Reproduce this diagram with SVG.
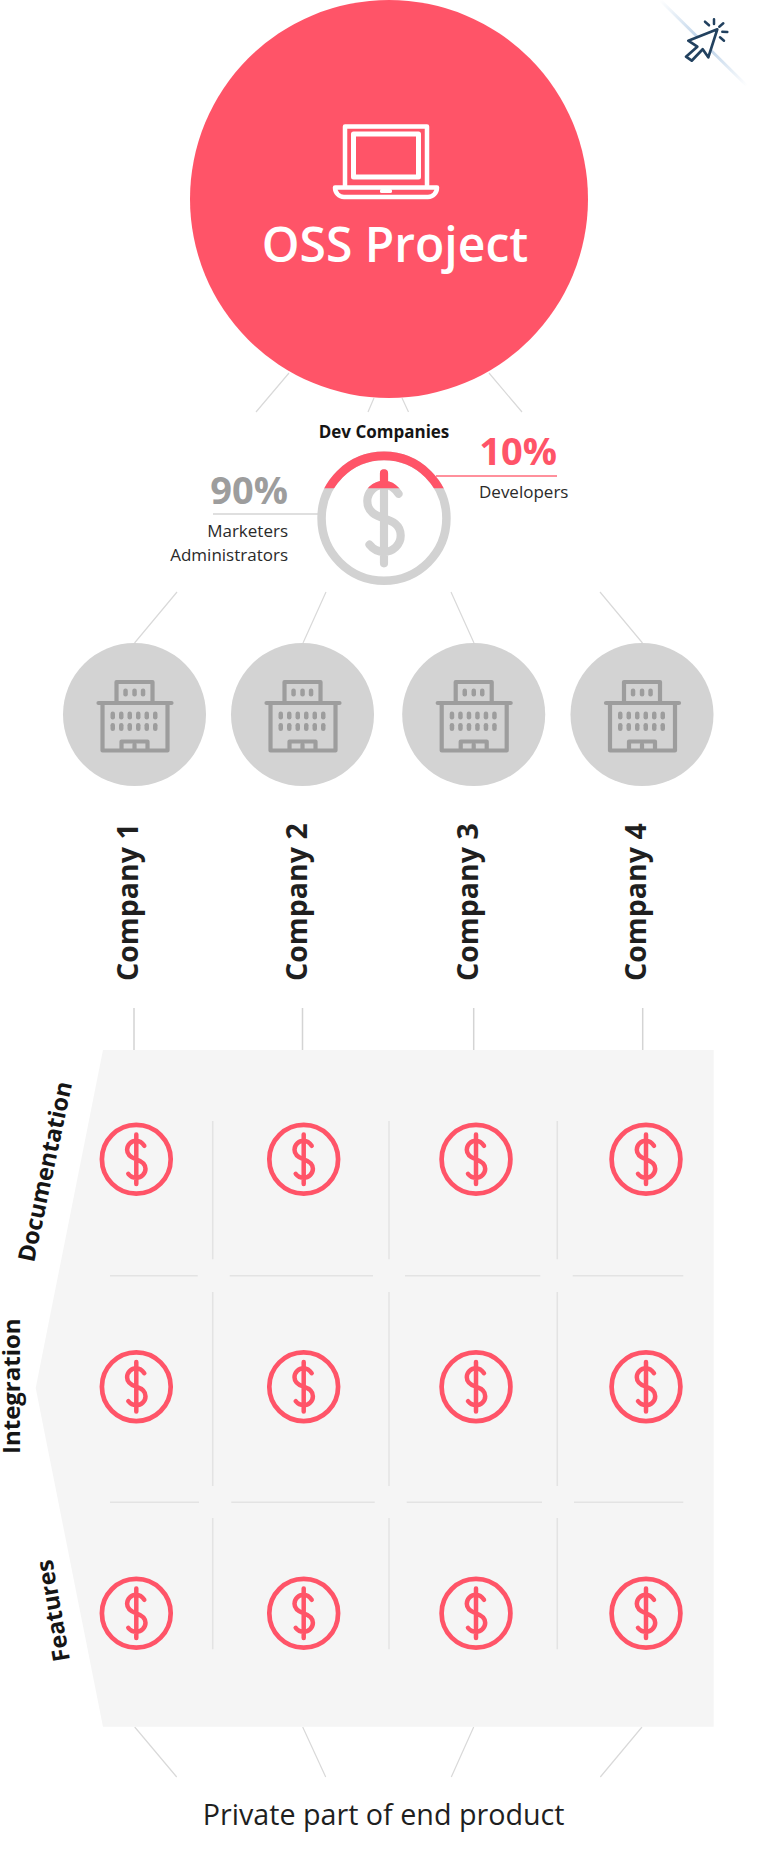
<svg xmlns="http://www.w3.org/2000/svg" width="768" height="1866" viewBox="0 0 768 1866">
<style>
text{font-family:"Open Sans","Noto Sans","Liberation Sans",sans-serif}
.conn{stroke:#d9d9d9;stroke-width:1.2;fill:none}
.vc{stroke:#d4d4d4;stroke-width:1.5;fill:none}
.grid{stroke:#e3e3e3;stroke-width:1.5;fill:none}
.co{fill:#1f1f1f;font-size:28.5px;font-weight:700}
.cat{fill:#151515;font-size:24px;font-weight:700}
.sm{fill:#2a2a2a;font-size:17px}
.pct{font-size:38px;font-weight:700}
.bld{fill:none;stroke:#9d9d9d;stroke-width:4.2;stroke-linejoin:round;stroke-linecap:round}
.win{fill:#9d9d9d}
</style>
<defs>
<g id="coin">
<circle r="34.4" fill="none" stroke="currentColor" stroke-width="4.7"/>
<path d="M0-24.800V24.800M8-13.500C6-16.500 3-18.500 0-18.500C-5-18.500-9.200-14.500-9.200-9.500C-9.200-3.500-4.500-1.500 0 0C4.500 1.500 9.200 3.500 9.200 9.500C9.200 14.500 5 18.500 0 18.500C-3.500 18.500-6 17-8 14.500" fill="none" stroke="currentColor" stroke-width="4.500" stroke-linecap="round"/>
</g>
<g id="building">
<path class="bld" d="M-36-11.500H37M-32-11.500V36H33V-11.500M-18-11.500V-32.500H18V-11.500M-13 36V27H13V36M0 30V36"/>
<g class="win">
<rect x="-11.200" y="-26" width="4.500" height="8" rx="2.200"/><rect x="-2.200" y="-26" width="4.500" height="8" rx="2.200"/><rect x="6.300" y="-26" width="4.500" height="8" rx="2.200"/>
<rect x="-24" y="-3" width="4.500" height="8" rx="2.200"/><rect x="-15.500" y="-3" width="4.500" height="8" rx="2.200"/><rect x="-7" y="-3" width="4.500" height="8" rx="2.200"/><rect x="1.500" y="-3" width="4.500" height="8" rx="2.200"/><rect x="10" y="-3" width="4.500" height="8" rx="2.200"/><rect x="18.500" y="-3" width="4.500" height="8" rx="2.200"/>
<rect x="-24" y="8.500" width="4.500" height="8" rx="2.200"/><rect x="-15.500" y="8.500" width="4.500" height="8" rx="2.200"/><rect x="-7" y="8.500" width="4.500" height="8" rx="2.200"/><rect x="1.500" y="8.500" width="4.500" height="8" rx="2.200"/><rect x="10" y="8.500" width="4.500" height="8" rx="2.200"/><rect x="18.500" y="8.500" width="4.500" height="8" rx="2.200"/>
</g>
</g>
<clipPath id="topcap"><rect x="300" y="440" width="170" height="48.300"/></clipPath>
<linearGradient id="fade" gradientUnits="userSpaceOnUse" x1="660" y1="0" x2="747" y2="86">
<stop offset="0" stop-color="#bcd2e8" stop-opacity="0"/><stop offset=".5" stop-color="#b5cde6"/><stop offset="1" stop-color="#bcd2e8" stop-opacity="0"/>
</linearGradient>
</defs>

<g id="connectors">
<path class="conn" d="M289 373L256 412M489 373L522 412M374 398L368 412M402 398L408.500 412"/>
<path class="conn" d="M177 592L134.500 643M326 592L303 643M451 592L474 643M600 592L642.500 643"/>
<path class="vc" d="M134 1008V1050M302.500 1008V1050M473.700 1008V1050M642.700 1008V1050"/>
<path class="conn" d="M134.700 1727L176.700 1777M302.700 1727L325.700 1777M473.700 1727L451.300 1777M642 1727L600.300 1777"/>
<path d="M213 514H318" stroke="#d4d4d4" stroke-width="1.500" fill="none"/>
<path d="M436 476H557" stroke="#ff6b7b" stroke-width="1.500" fill="none"/>
</g>

<g id="cursor">
<path d="M660 0L747 86" stroke="url(#fade)" stroke-width="3" fill="none"/>
<path d="M717.300 29.300L688.300 40.700L697.300 46.700L686 56.700L691.700 60.700L702.700 49.300L708.300 57.300Z" fill="#fff" stroke="#22415f" stroke-width="2.700" stroke-linejoin="round"/>
<path d="M714 19.300V24M705 21.700L709 25.300M723.300 23.300L719.300 26.700M722.300 31.700L727.300 32M720 37.300L724 40.700" stroke="#22415f" stroke-width="2.500" stroke-linecap="round" fill="none"/>
</g>

<g id="oss-project">
<circle cx="389" cy="199" r="199" fill="#ff5468"/>
<g fill="none" stroke="#fff" stroke-linejoin="round">
<path d="M345 186V126.500H427V186" stroke-width="4.500"/>
<rect x="353.500" y="134" width="65" height="43" stroke-width="5"/>
<path d="M335 187.500H437C437 193 433 197 428 197H344C339 197 335 193 335 187.500Z" stroke-width="4.500"/>
</g>
<rect x="380" y="189" width="12" height="4" rx="1.500" fill="#fff"/>
<text x="395" y="262" text-anchor="middle" fill="#fff" font-size="48" font-weight="600">OSS Project</text>
</g>

<g id="dev-companies">
<use href="#coin" transform="translate(384 518.300) scale(1.815)" color="#d2d2d2"/>
<g clip-path="url(#topcap)"><use href="#coin" transform="translate(384 518.300) scale(1.815)" color="#ff5468"/></g>
<text x="384" y="438" text-anchor="middle" fill="#151515" font-size="17" font-weight="700">Dev Companies</text>
<text x="557" y="465" text-anchor="end" class="pct" fill="#ff5468">10%</text>
<text x="479" y="498" class="sm">Developers</text>
<text x="288" y="504" text-anchor="end" class="pct" fill="#9d9d9d">90%</text>
<text x="288" y="537" text-anchor="end" class="sm">Marketers</text>
<text x="288" y="561" text-anchor="end" class="sm">Administrators</text>
</g>

<g id="company-1"><circle cx="134.500" cy="714.500" r="71.500" fill="#d3d3d3"/><use href="#building" x="134.500" y="714.500"/><text class="co" transform="translate(138 981) rotate(-90)">Company 1</text></g>
<g id="company-2"><circle cx="302.500" cy="714.500" r="71.500" fill="#d3d3d3"/><use href="#building" x="302.500" y="714.500"/><text class="co" transform="translate(307 981) rotate(-90)">Company 2</text></g>
<g id="company-3"><circle cx="473.700" cy="714.500" r="71.500" fill="#d3d3d3"/><use href="#building" x="473.700" y="714.500"/><text class="co" transform="translate(478 981) rotate(-90)">Company 3</text></g>
<g id="company-4"><circle cx="642" cy="714.500" r="71.500" fill="#d3d3d3"/><use href="#building" x="642" y="714.500"/><text class="co" transform="translate(646.300 981) rotate(-90)">Company 4</text></g>

<g id="panel">
<path d="M103 1050H713.700V1726.700H103L35.700 1388Z" fill="#f5f5f5"/>
<path class="grid" d="M212.700 1121V1259.300M389 1121V1259.300M557.300 1121V1259.300M212.700 1292V1486M389 1292V1486M557.300 1292V1486M212.700 1518V1649.300M389 1518V1649.300M557.300 1518V1649.300"/>
<path class="grid" d="M110 1275.800H197.700M229.700 1275.800H373M405 1275.800H540.300M572.700 1275.800H683.300M110 1502.300H199M231.300 1502.300H374.700M406.700 1502.300H542M574 1502.300H683.300"/>
</g>

<g id="row-documentation">
<text class="cat" transform="translate(34 1263) rotate(-78)" style="font-size:23.5px">Documentation</text>
<use href="#coin" x="136.300" y="1159.300" color="#ff5468"/><use href="#coin" x="303.700" y="1159.300" color="#ff5468"/><use href="#coin" x="476" y="1159.300" color="#ff5468"/><use href="#coin" x="646" y="1159.300" color="#ff5468"/>
</g>
<g id="row-integration">
<text class="cat" transform="translate(20 1454) rotate(-90)">Integration</text>
<use href="#coin" x="136.300" y="1386.700" color="#ff5468"/><use href="#coin" x="303.700" y="1386.700" color="#ff5468"/><use href="#coin" x="476" y="1386.700" color="#ff5468"/><use href="#coin" x="646" y="1386.700" color="#ff5468"/>
</g>
<g id="row-features">
<text class="cat" transform="translate(70 1660) rotate(-100)" style="font-size:23.5px">Features</text>
<use href="#coin" x="136.300" y="1613.300" color="#ff5468"/><use href="#coin" x="303.700" y="1613.300" color="#ff5468"/><use href="#coin" x="476" y="1613.300" color="#ff5468"/><use href="#coin" x="646" y="1613.300" color="#ff5468"/>
</g>

<g id="private-part">
<text x="202.700" y="1825" fill="#1f1f1f" font-size="28.700">Private part of end product</text>
</g>
</svg>
